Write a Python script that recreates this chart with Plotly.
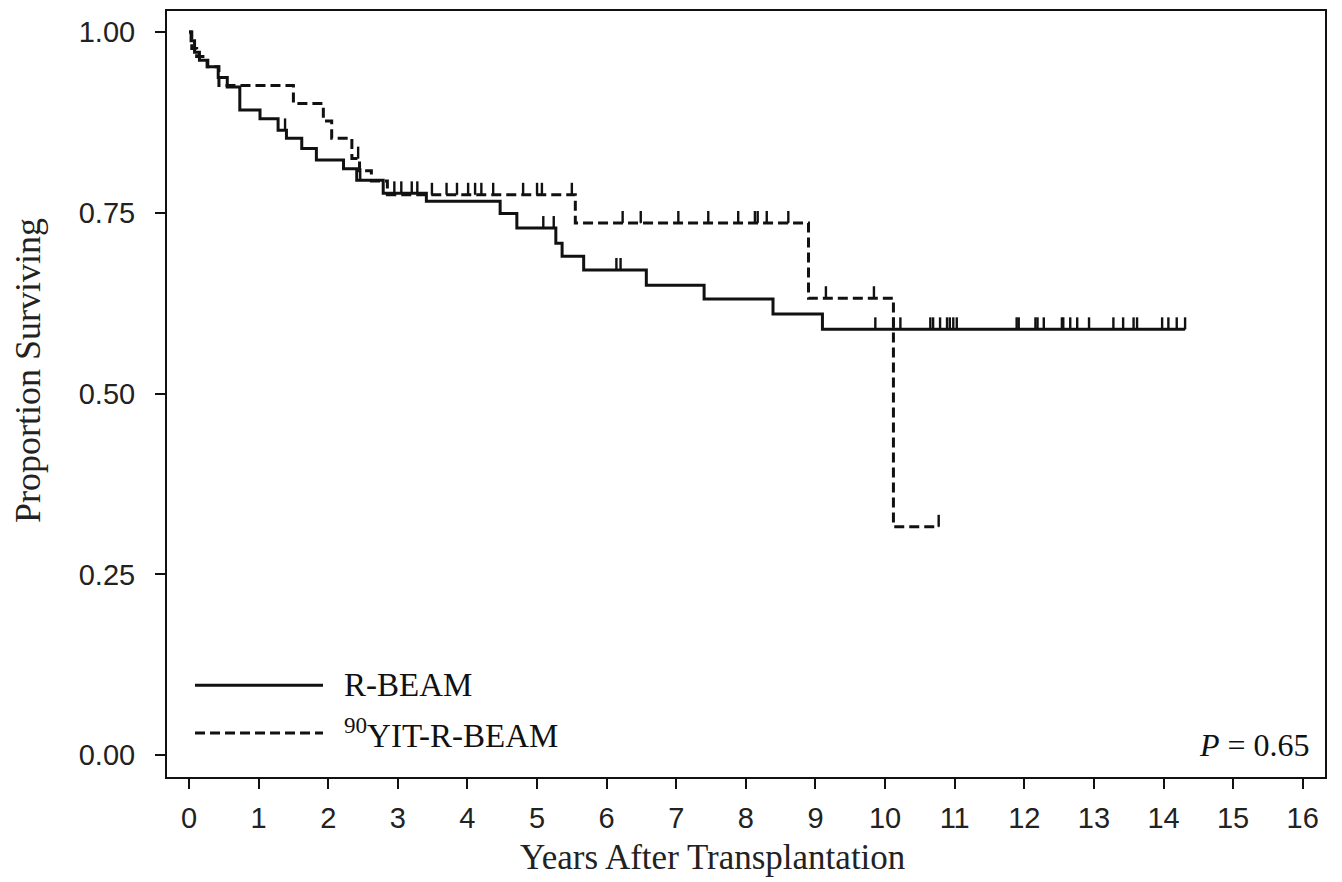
import plotly.graph_objects as go
import numpy as np

# ---- data (Kaplan-Meier steps) ----
rbeam_t = [0, 0.03, 0.08, 0.15, 0.27, 0.42, 0.55, 0.73, 1.02, 1.28, 1.40, 1.62, 1.83, 2.22, 2.41,
           2.79, 3.41, 4.47, 4.71, 5.27, 5.36, 5.67, 6.57, 7.40, 8.39, 9.10]
rbeam_s = [1.000, 0.988, 0.972, 0.961, 0.952, 0.937, 0.924, 0.892, 0.880, 0.864, 0.853, 0.839, 0.823,
           0.811, 0.795, 0.777, 0.766, 0.749, 0.729, 0.708, 0.690, 0.671, 0.650, 0.631, 0.610, 0.589]
rbeam_end = 14.31
rbeam_cens = [1.38, 2.46, 2.95, 3.05, 3.20, 3.28, 5.09, 5.24, 6.14, 6.20, 9.86, 10.12, 10.22, 10.65,
              10.69, 10.79, 10.89, 10.93, 10.98, 11.03, 11.89, 11.92, 12.16, 12.19, 12.28, 12.54,
              12.56, 12.66, 12.76, 12.93, 13.28, 13.42, 13.57, 13.62, 13.98, 14.07, 14.19, 14.31]

yit_t = [0, 0.04, 0.11, 0.26, 0.43, 1.50, 1.93, 2.05, 2.34, 2.45, 2.62, 2.85, 5.55, 8.90, 10.12]
yit_s = [1.000, 0.977, 0.966, 0.952, 0.926, 0.901, 0.877, 0.853, 0.825, 0.808, 0.794, 0.775,
         0.736, 0.632, 0.316]
yit_end = 10.77
yit_cens = [2.43, 3.49, 3.70, 3.85, 4.01, 4.11, 4.20, 4.37, 4.80, 5.00, 5.07, 5.50, 6.23, 6.49,
            7.03, 7.46, 7.89, 8.13, 8.17, 8.30, 8.61, 9.15, 9.84, 10.77]

x_ticks = list(range(0, 17))
y_ticks = [0.0, 0.25, 0.5, 0.75, 1.0]
series_names = ["R-BEAM", "<sup>90</sup>YIT-R-BEAM"]
p_text = "<i>P</i> = 0.65"
x_title = "Years After Transplantation"
y_title = "Proportion Surviving"

BLACK = "#111111"
CENS_H = 0.0165  # censor tick height in data units
DASH = "10px,5px"


def surv_at(times, surv, t):
    idx = np.searchsorted(np.array(times), t, side="right") - 1
    return surv[max(idx, 0)]


fig = go.Figure()

for times, surv, end, cens, dash in [
    (rbeam_t, rbeam_s, rbeam_end, rbeam_cens, "solid"),
    (yit_t, yit_s, yit_end, yit_cens, DASH),
]:
    xs = list(times) + [end]
    ys = list(surv) + [surv[-1]]
    fig.add_trace(go.Scatter(x=xs, y=ys, mode="lines", line_shape="hv",
                             line=dict(color=BLACK, width=3, dash=dash),
                             showlegend=False, hoverinfo="skip"))
    cy = [surv_at(times, surv, c) for c in cens]
    fig.add_trace(go.Scatter(x=cens, y=cy, mode="markers",
                             marker=dict(size=1, color=BLACK),
                             error_y=dict(type="data", symmetric=False,
                                          array=[CENS_H] * len(cens),
                                          arrayminus=[0] * len(cens),
                                          width=0, thickness=2.4, color=BLACK),
                             showlegend=False, hoverinfo="skip"))

# manual legend (long line samples like the reference)
for i, (name, dash) in enumerate(zip(series_names, ["solid", DASH])):
    yv = 0.1198 - i * 0.0625
    fig.add_shape(type="line", xref="paper", yref="paper", x0=0.0242, x1=0.1347, y0=yv, y1=yv,
                  line=dict(color=BLACK, width=3, dash=dash))
    fig.add_annotation(xref="paper", yref="paper", x=0.151, y=yv, text=name, showarrow=False,
                       xanchor="left", yanchor="middle",
                       font=dict(family="Liberation Serif", size=33, color=BLACK))

fig.add_annotation(xref="paper", yref="paper", x=0.989, y=0.042, text=p_text, showarrow=False,
                   xanchor="right", yanchor="middle",
                   font=dict(family="Liberation Serif", size=32, color=BLACK))

# axis titles
fig.add_annotation(xref="paper", yref="paper", x=0.4715, y=-0.1055, text=x_title, showarrow=False,
                   xanchor="center", yanchor="middle",
                   font=dict(family="Liberation Serif", size=35, color="#222222"))
fig.add_annotation(xref="paper", yref="paper", x=-0.120, y=0.53, text=y_title, showarrow=False,
                   textangle=-90, xanchor="center", yanchor="middle",
                   font=dict(family="Liberation Serif", size=36, color="#222222"))

fig.update_layout(
    width=1342, height=882,
    margin=dict(l=167, r=17, t=9, b=105),
    paper_bgcolor="white", plot_bgcolor="white",
    showlegend=False,
)
fig.update_xaxes(
    range=[-0.316, 16.32], tickvals=x_ticks, ticktext=[str(v) for v in x_ticks],
    showgrid=False, zeroline=False, showline=True, linecolor=BLACK, linewidth=2, mirror=True,
    ticks="outside", ticklen=10, tickwidth=2, tickcolor=BLACK,
    tickfont=dict(family="Liberation Sans", size=29, color="#222222"),
    ticklabelstandoff=4,
)
fig.update_yaxes(
    range=[-0.030, 1.029], tickvals=y_ticks, ticktext=[f"{v:.2f}" for v in y_ticks],
    showgrid=False, zeroline=False, showline=True, linecolor=BLACK, linewidth=2, mirror=True,
    ticks="outside", ticklen=10, tickwidth=2, tickcolor=BLACK,
    tickfont=dict(family="Liberation Sans", size=29, color="#222222"),
    ticklabelstandoff=14,
)

fig.write_html("out.html")
